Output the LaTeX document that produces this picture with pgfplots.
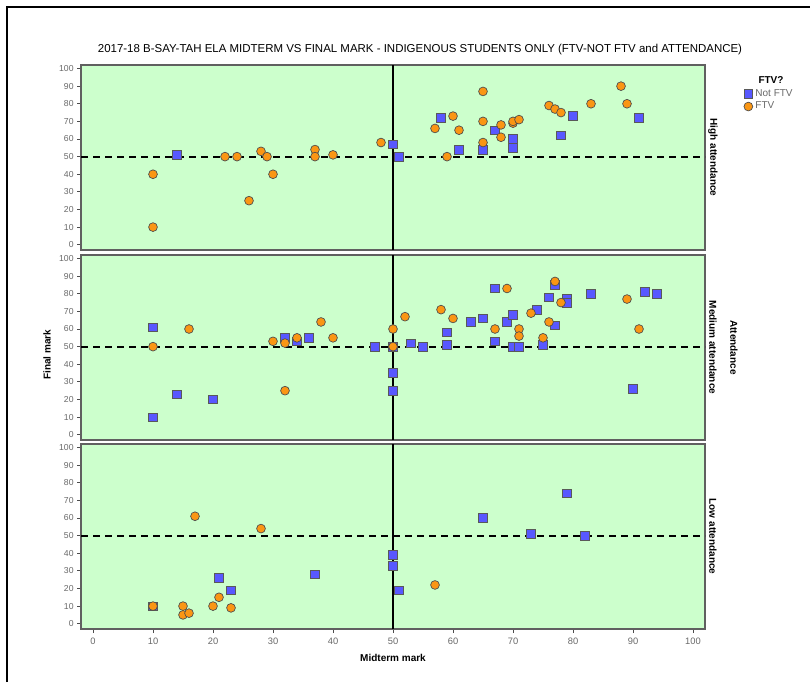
\documentclass[border=0pt]{standalone}
\usepackage{fontspec}
\setmainfont{Liberation Sans}
\usepackage{pgfplots}
\pgfplotsset{compat=1.18}
\definecolor{bgreen}{RGB}{204,255,204}
\definecolor{nblue}{RGB}{88,88,255}
\definecolor{forange}{RGB}{250,150,20}
\definecolor{tickgray}{RGB}{105,105,105}
\pgfplotsset{
  panel/.style={
    scale only axis, width=468pt, height=138.75pt, anchor=south west,
    xmin=-2, xmax=102, ymin=-3, ymax=102,
    axis background/.style={fill=bgreen},
    axis line style={gray!75!black, line width=0.8pt},
    ytick={0,10,...,100}, ytick pos=left, xtick pos=bottom, tick align=outside,
    major tick length=3pt,
    tick style={gray!60!black, line width=0.6pt},
    yticklabel style={font=\fontsize{6.5}{7}\selectfont, text=tickgray, xshift=1pt},
    xticklabel style={font=\fontsize{7}{8}\selectfont, text=tickgray},
    /pgf/number format/assume math mode=true,
  },
  nftv/.style={only marks, mark=square*, mark size=3.2pt,
    mark options={fill=nblue, draw=black!65, line width=0.5pt}},
  ftv/.style={only marks, mark=*, mark size=3.3pt,
    mark options={fill=forange, draw=black!70, line width=0.5pt}},
}
\newcommand{\reflines}{%
  \addplot[black, line width=1.4pt, forget plot] coordinates {(50,-3) (50,102)};
  \addplot[black, line width=1.4pt, dash pattern=on 5.5pt off 3.5pt, forget plot] coordinates {(-2,50) (102,50)};
}
\begin{document}
\begin{tikzpicture}
\useasboundingbox (0,0) rectangle (607.5pt,-511.5pt);
\fill[white] (0,0) rectangle (607.5pt,-511.5pt);
\draw[line width=1.5pt] (5.25pt,-511.5pt) -- (5.25pt,-5.25pt) -- (607.5pt,-5.25pt);

% High attendance
\begin{axis}[panel, at={(60.75pt,-187.5pt)}, xtick=\empty,
  legend style={at={(1.062,0.885)}, anchor=north west, draw=none, fill=none,
    font=\fontsize{7.5}{9}\selectfont, text=tickgray, row sep=-1pt,
    inner sep=0pt},
  legend cell align=left,
  ]
\reflines
\addplot[nftv] coordinates {(14,51)(50,57)(51,50)(58,72)(61,54)(65,54)(67,65)(70,60)(70,55)(78,62)(80,73)(91,72)};
\addlegendentry{Not FTV}
\addplot[ftv] coordinates {(10,40)(10,10)(22,50)(24,50)(28,53)(29,50)(30,40)(26,25)(37,54)(37,50)(40,51)(48,58)(59,50)(57,66)(60,73)(61,65)(65,87)(65,70)(65,58)(68,68)(68,61)(70,69)(70,70)(71,71)(76,79)(77,77)(78,75)(83,80)(88,90)(89,80)};
\addlegendentry{FTV}
\end{axis}

% Medium attendance
\begin{axis}[panel, at={(60.75pt,-330pt)}, xtick=\empty]
\reflines
\addplot[nftv] coordinates {(10,61)(10,10)(14,23)(20,20)(32,55)(34,53)(36,55)(47,50)(50,50)(50,35)(50,25)(53,52)(55,50)(59,58)(59,51)(63,64)(65,66)(67,83)(67,53)(69,64)(70,68)(70,50)(71,50)(74,71)(75,51)(76,78)(77,85)(77,62)(79,77)(79,75)(83,80)(90,26)(92,81)(94,80)};
\addplot[ftv] coordinates {(10,50)(16,60)(30,53)(32,52)(32,25)(34,55)(38,64)(40,55)(50,60)(50,50)(52,67)(58,71)(60,66)(67,60)(69,83)(71,60)(71,56)(73,69)(75,55)(76,64)(77,87)(78,75)(89,77)(91,60)};
\end{axis}

% Low attendance
\begin{axis}[panel, at={(60.75pt,-471.75pt)}, xtick={0,10,...,100}]
\reflines
\addplot[nftv] coordinates {(10,10)(21,26)(23,19)(37,28)(50,39)(50,33)(51,19)(65,60)(73,51)(79,74)(82,50)};
\addplot[ftv] coordinates {(10,10)(15,10)(15,5)(16,6)(17,61)(20,10)(21,15)(23,9)(28,54)(57,22)};
\end{axis}

% texts
\node[font=\fontsize{8.6}{10}\selectfont] at (315pt,-37.5pt) {2017-18 B-SAY-TAH ELA MIDTERM VS FINAL MARK - INDIGENOUS STUDENTS ONLY (FTV-NOT FTV and ATTENDANCE)};
\node[font=\bfseries\fontsize{7.5}{9}\selectfont, rotate=90] at (35.25pt,-266pt) {Final mark};
\node[font=\bfseries\fontsize{7.5}{9}\selectfont] at (294.75pt,-493.5pt) {Midterm mark};
\node[font=\bfseries\fontsize{7.5}{9}\selectfont, rotate=-90] at (534.75pt,-118.1pt) {High attendance};
\node[font=\bfseries\fontsize{7.5}{9}\selectfont, rotate=-90] at (534.75pt,-260.6pt) {Medium attendance};
\node[font=\bfseries\fontsize{7.5}{9}\selectfont, rotate=-90] at (534.75pt,-402.4pt) {Low attendance};
\node[font=\bfseries\fontsize{7.5}{9}\selectfont, rotate=-90] at (550.5pt,-260.6pt) {Attendance};
\node[font=\bfseries\fontsize{7.5}{9}\selectfont] at (578.25pt,-60pt) {FTV?};
\end{tikzpicture}
\end{document}
